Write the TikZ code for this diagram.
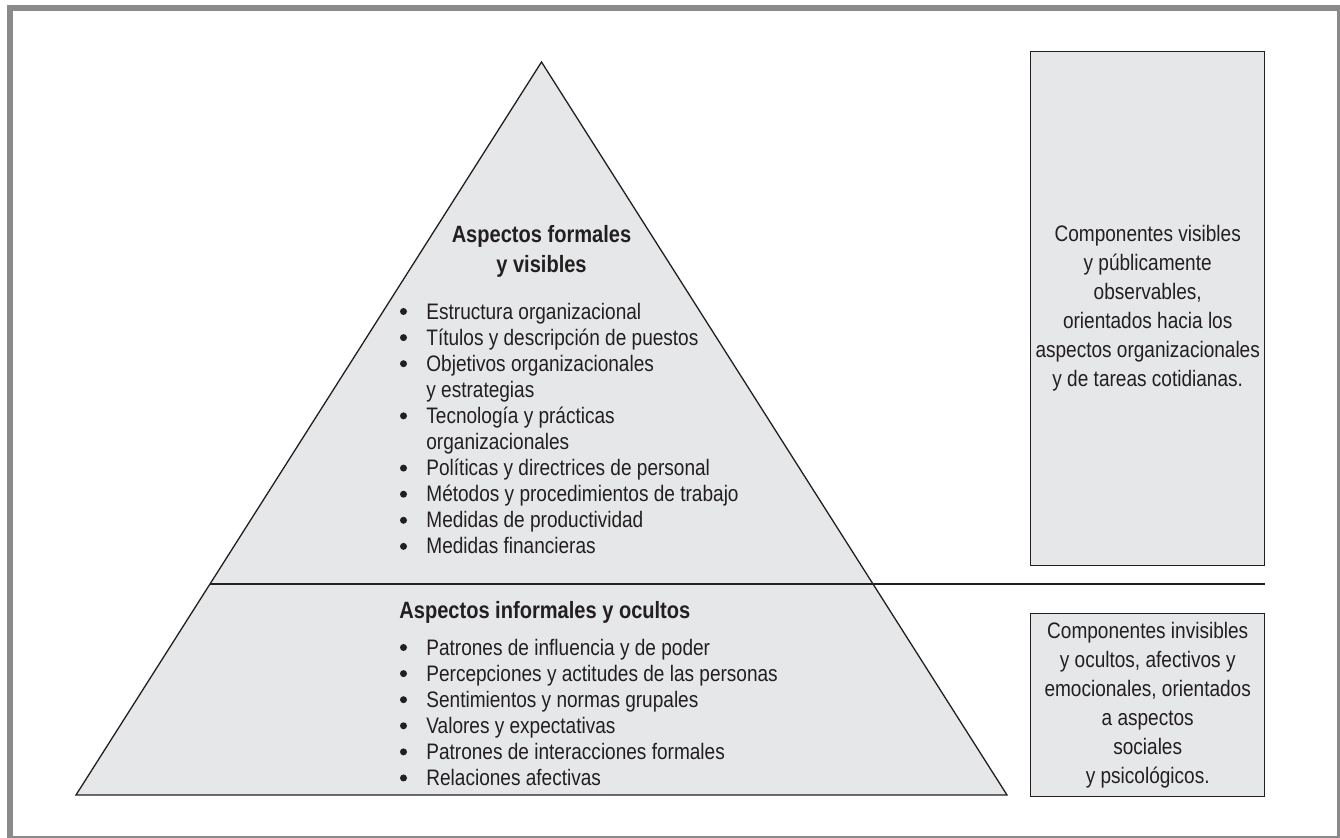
\documentclass[tikz,border=0pt]{standalone}
\usepackage{fontspec}
\setmainfont[FakeStretch=0.85]{Liberation Sans}
\usetikzlibrary{calc,positioning}
\definecolor{boxgray}{HTML}{E6E7E8}
\definecolor{framegray}{HTML}{8A8A8A}
\definecolor{ink}{HTML}{231F20}
\newcommand{\ind}{\hspace*{13.5pt}}

\begin{document}
\begin{tikzpicture}[x=0.5pt,y=-0.5pt,
    every node/.style={text=ink, font=\fontsize{11.2}{13}\selectfont},
    sidebox/.style={draw=ink, fill=boxgray, line width=0.7pt, align=center,
      anchor=north west, inner sep=0pt, minimum width=117pt,
      font=\fontsize{11.2}{14.5}\selectfont},
    head/.style={font=\fontsize{11.8}{15}\selectfont\bfseries, inner sep=0pt},
    itemlist/.style={align=left, anchor=north west, inner sep=0pt}]
  \useasboundingbox (0,0) rectangle (1340,838);
  % outer frame
  \draw[framegray, line width=3pt] (9.5,8) rectangle (1340,839);
  % the pyramid
  \coordinate (apex) at (541.5,62);
  \coordinate (baseL) at (76,795);
  \coordinate (baseR) at (1007,795);
  \filldraw[fill=boxgray, draw=ink, line width=0.65pt] (apex) -- (baseR) -- (baseL) -- cycle;
  % side boxes
  \node[sidebox, minimum height=257pt] (visbox) at (1030,51)
    {Componentes visibles\\ y públicamente\\ observables,\\ orientados hacia los\\
     aspectos organizacionales\\ y de tareas cotidianas.};
  \node[sidebox, minimum height=91.5pt] (ocubox) at (1030,613)
    {Componentes invisibles\\ y ocultos, afectivos y\\ emocionales, orientados\\
     a aspectos\\ sociales\\ y psicológicos.};
  % divider between the two levels
  \coordinate (cutL) at ($(apex)!0.712!(baseL)$);
  \draw[ink, line width=0.65pt] (cutL) -- (cutL -| visbox.east);
  % upper level
  \node[head, align=center] (formtitle) at (541.5,251) {Aspectos formales\\y visibles};
  \node[itemlist] (formlist) at (399,303)
    {\ind Estructura organizacional\\
     \ind Títulos y descripción de puestos\\
     \ind Objetivos organizacionales\\
     \ind y estrategias\\
     \ind Tecnología y prácticas\\
     \ind organizacionales\\
     \ind Políticas y directrices de personal\\
     \ind Métodos y procedimientos de trabajo\\
     \ind Medidas de productividad\\
     \ind Medidas financieras};
  % lower level
  \node[head, anchor=west] (inftitle) at (399,612) {Aspectos informales y ocultos};
  \node[itemlist] (inflist) at (399,639)
    {\ind Patrones de influencia y de poder\\
     \ind Percepciones y actitudes de las personas\\
     \ind Sentimientos y normas grupales\\
     \ind Valores y expectativas\\
     \ind Patrones de interacciones formales\\
     \ind Relaciones afectivas};
  % bullets
  \foreach \i in {0,1,2,4,6,7,8,9}
    \fill[ink] (403.5,{311.5+26.1*\i}) circle (1.75pt);
  \foreach \i in {0,...,5}
    \fill[ink] (403.5,{647.5+26.1*\i}) circle (1.75pt);
\end{tikzpicture}
\end{document}
